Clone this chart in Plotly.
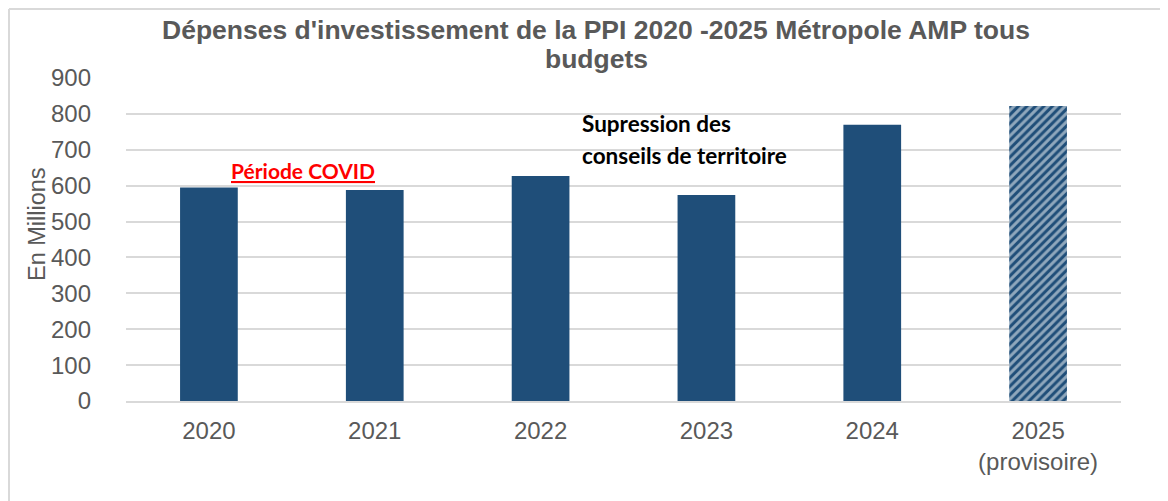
import plotly.graph_objects as go

categories = ["2020", "2021", "2022", "2023", "2024", "2025<br>(provisoire)"]
values = [595, 588, 627, 574, 770, 822]
bar_colors = ["#1F4E79", "#1F4E79", "#1F4E79", "#1F4E79", "#1F4E79", "#1F4E79"]
patterns = ["", "", "", "", "", "/"]
y_ticks = [0, 100, 200, 300, 400, 500, 600, 700, 800, 900]

title_line1 = "Dépenses d'investissement de la PPI 2020 -2025 Métropole AMP tous"
title_line2 = "budgets"

GRAY = "#595959"
GRID = "#D9D9D9"
FONT = "Liberation Sans, Arial, sans-serif"
CAL = "Lato, Carlito, sans-serif"

OFF = 8  # page body margin
L, R, T, B = 126 - OFF, 47, 78 - OFF, 100
W, H = 1168 - OFF, 501 - OFF
pw = W - L - R
ph = H - T - B


def px(sx):
    return (sx - OFF - L) / pw


def py(sy):
    return (OFF + T + ph - sy) / ph


fig = go.Figure()
fig.add_trace(go.Bar(
    x=categories,
    y=values,
    marker=dict(
        color=bar_colors,
        line=dict(width=0),
        pattern=dict(shape=patterns, fgcolor="#1F4E79", bgcolor="white",
                     size=6, solidity=0.5),
    ),
    hoverinfo="x+y",
))

fig.update_layout(
    width=W, height=H,
    margin=dict(l=L, r=R, t=T, b=B),
    paper_bgcolor="white",
    plot_bgcolor="white",
    bargap=0.652,
    showlegend=False,
    font=dict(family=FONT, color=GRAY),
)

fig.update_xaxes(
    type="category",
    showgrid=False,
    showline=True, linecolor=GRID, linewidth=2,
    ticks="", tickfont=dict(family=FONT, size=24, color=GRAY),
    ticklabelstandoff=7,
)
fig.update_yaxes(
    range=[0, 900],
    tickvals=y_ticks,
    showgrid=True, gridcolor=GRID, gridwidth=2,
    zeroline=False,
    showline=False,
    ticks="", tickfont=dict(family=FONT, size=24, color=GRAY),
    ticklabelstandoff=34,
)

# title (two lines)
fig.add_annotation(
    text="<b>" + title_line1 + "</b>", xref="paper", yref="paper",
    x=px(596), y=py(30), xanchor="center", yanchor="middle", showarrow=False,
    font=dict(family=FONT, size=26.5, color=GRAY),
)
fig.add_annotation(
    text="<b>" + title_line2 + "</b>", xref="paper", yref="paper",
    x=px(596), y=py(59), xanchor="center", yanchor="middle", showarrow=False,
    font=dict(family=FONT, size=26.5, color=GRAY),
)

# y axis title
fig.add_annotation(
    text="En Millions", xref="paper", yref="paper",
    x=px(37), y=py(224),
    xanchor="center", yanchor="middle", textangle=-90, showarrow=False,
    font=dict(family=FONT, size=23.5, color=GRAY),
)

# text annotations
fig.add_annotation(
    text="<b><u>Période COVID</u></b>", x=0.57, y=641, xref="x", yref="y",
    xanchor="center", yanchor="middle", showarrow=False,
    font=dict(family=CAL, size=21, color="#FF0000"),
)
fig.add_annotation(
    text="<b>Supression des</b>", x=2.235, y=772, xref="x", yref="y",
    xanchor="left", yanchor="middle", showarrow=False,
    font=dict(family=CAL, size=22.5, color="#000000"),
)
fig.add_annotation(
    text="<b>conseils de territoire</b>", x=2.235, y=683, xref="x", yref="y",
    xanchor="left", yanchor="middle", showarrow=False,
    font=dict(family=CAL, size=22.5, color="#000000"),
)

# chart border (top and left), kept inside the figure area
fig.add_shape(type="line", xref="paper", yref="paper",
              x0=px(9), x1=px(1168), y0=py(9), y1=py(9),
              line=dict(color=GRID, width=2))
fig.add_shape(type="line", xref="paper", yref="paper",
              x0=px(9), x1=px(9), y0=py(9), y1=py(501),
              line=dict(color=GRID, width=2))

fig.write_html("out.html")
